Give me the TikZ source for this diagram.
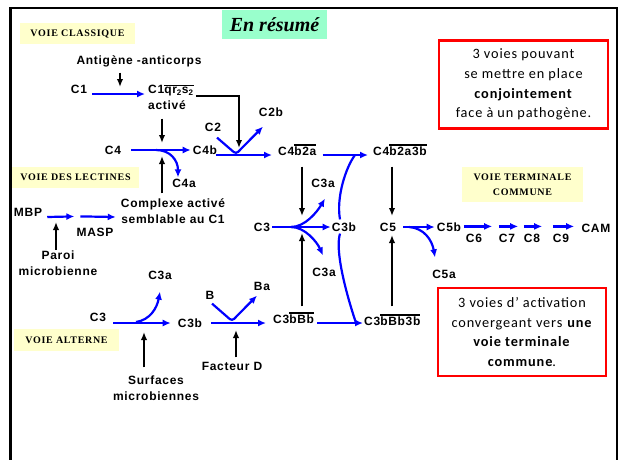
\documentclass[tikz,border=0pt]{standalone}
\usepackage{fontspec}
\usetikzlibrary{arrows.meta,calc}
\newfontfamily\labfont[LetterSpace=6]{Liberation Sans}
\newfontfamily\tagfont[LetterSpace=7]{Liberation Serif}
\newfontfamily\titfont{Liberation Serif}
\newfontfamily\notefont[LetterSpace=6]{Carlito}
\definecolor{tagyellow}{HTML}{FFFFCC}
\definecolor{titgreen}{HTML}{99FFCC}
\newcommand\surligne[1]{\leavevmode\vbox{\hrule height 1.6pt\kern 0.8pt\hbox{#1}}}

\begin{document}
\begin{tikzpicture}[x=1pt,y=-1pt,
    lab/.style={font=\labfont\bfseries\fontsize{12}{13}\selectfont, inner sep=0pt, text height=8.8pt, text depth=0pt},
    lab2/.style={font=\labfont\bfseries\fontsize{12}{16}\selectfont, inner sep=0pt, align=center},
    tag/.style={fill=tagyellow, font=\tagfont\bfseries\fontsize{10}{15}\selectfont, inner sep=0pt},
    note/.style={draw=red, line width=2.5pt, font=\notefont\fontsize{14.3}{19.7}\selectfont, align=center, inner sep=0pt},
    blu/.style={draw=blue, line width=2.2pt, -{Latex[length=8pt,width=7pt]}},
    bluline/.style={draw=blue, line width=2.2pt},
    blk/.style={line width=2pt, -{Latex[length=8pt,width=6.5pt]}}]
  \useasboundingbox (0,0) rectangle (619,459);
  \draw[line width=2.5pt] (10.5,462) -- (10.5,8) -- (617,8) -- (617,462);

  \node[fill=titgreen, minimum width=105pt, minimum height=29pt, inner sep=0pt,
        font=\titfont\bfseries\itshape\fontsize{20}{24}\selectfont] (titre) at (274.5,24.5) {En résumé};
  \node[tag, minimum width=115pt, minimum height=21pt] (classique) at (77.5,33.5) {VOIE CLASSIQUE};
  \node[tag, minimum width=127pt, minimum height=21pt] (lectines) at (75.5,177.5) {VOIE DES LECTINES};
  \node[tag, minimum width=105pt, minimum height=22pt] (alterne) at (66.5,340) {VOIE ALTERNE};
  \node[tag, minimum width=121pt, minimum height=35pt, align=center] (terminale) at (522.5,184.5) {VOIE TERMINALE\\COMMUNE};

  \node[note, minimum width=169pt, minimum height=88pt] (note1) at (523.5,84.5)
    {3 voies pouvant\\se mettre en place\\\textbf{conjointement}\\face à un pathogène.};
  \node[note, minimum width=168pt, minimum height=88pt] (note2) at (522,332)
    {3 voies d’ activation\\convergeant vers \textbf{une}\\\textbf{voie terminale}\\\textbf{commune}.};

  \node[lab] (anti) at (139,60) {Antigène -anticorps};
  \node[lab] (c1) at (79,89) {C1};
  \node[lab, anchor=west] (c1q) at (148,89) {C1\surligne{qr\textsubscript{2}s\textsubscript{2}}};
  \node[lab] (active) at (167,105) {activé};
  \node[lab] (c4) at (113,150) {C4};
  \node[lab] (c4b) at (205,150) {C4b};
  \node[lab] (c4a) at (184,183) {C4a};
  \node[lab] (c2) at (213,127) {C2};
  \node[lab] (c2b) at (271,112) {C2b};
  \node[lab, anchor=west] (c4b2a) at (278,151) {C4\surligne{b2a}};
  \node[lab, anchor=west] (c4b2a3b) at (373,151) {C4\surligne{b2a3b}};
  \node[lab] (c3aup) at (323,183) {C3a};
  \node[lab] (c3) at (262,227) {C3};
  \node[lab] (c3b) at (344,227) {C3b};
  \node[lab] (c3adown) at (324,272) {C3a};
  \node[lab] (c5) at (388,227) {C5};
  \node[lab] (c5b) at (449,227) {C5b};
  \node[lab] (c5a) at (444,274) {C5a};
  \node[lab] (c6) at (474,238) {C6};
  \node[lab] (c7) at (507,238) {C7};
  \node[lab] (c8) at (532,238) {C8};
  \node[lab] (c9) at (561,238) {C9};
  \node[lab] (cam) at (596,228) {CAM};
  \node[lab] (mbp) at (28,212) {MBP};
  \node[lab] (masp) at (95,232) {MASP};
  \node[lab2] (paroi) at (58,263.5) {Paroi\\microbienne};
  \node[lab2] (complexe) at (173,211) {Complexe activé\\semblable au C1};
  \node[lab] (c3aalt) at (160,275) {C3a};
  \node[lab] (c3alt) at (98,317) {C3};
  \node[lab] (c3balt) at (190,323) {C3b};
  \node[lab] (b) at (210,295) {B};
  \node[lab] (ba) at (262,286) {Ba};
  \node[lab] (facteur) at (232,366) {Facteur D};
  \node[lab2] (surfaces) at (156,388) {Surfaces\\microbiennes};
  \node[lab, anchor=west] (c3bbb) at (273,319) {C3\surligne{bBb}};
  \node[lab, anchor=west] (c3bbb3b) at (364,321) {C3\surligne{bBb3b}};

  \coordinate (tipAg) at (120,87);
  \coordinate (tipAct) at (162,143);
  \coordinate (tipCpx) at (162,156);
  \coordinate (tipC2) at (239,148);
  \coordinate (c4split) at (156,150);
  \coordinate (vC2) at (236,154);
  \coordinate (mergeTop) at (355,155);
  \coordinate (mergeBot) at (356,323);
  \coordinate (tipC3top) at (302,216);
  \coordinate (tipC3bot) at (302,233);
  \coordinate (c3split) at (291,227);
  \coordinate (c5split) at (409,227);
  \coordinate (tipC5top) at (392,216);
  \coordinate (tipC5bot) at (392,235);
  \coordinate (tipParoi) at (56,222);
  \coordinate (c3altsplit) at (136,322);
  \coordinate (tipSurf) at (144,332);
  \coordinate (vB) at (232,321);
  \coordinate (tipFD) at (236,330);

  \draw[blu] ($(c1.east)+(5,5)$) -- ($(c1q.west)+(-3,5)$);
  \draw[blk] ($(anti.south -| tipAg)+(0,8)$) -- (tipAg);
  \draw[blk] ($(c1q.east)+(2,7)$) -| (tipC2);
  \draw[blk] ($(active.south -| tipAct)+(0,9)$) -- (tipAct);
  \draw[blu] ($(c4.east)+(10,0)$) -- ($(c4b.west)+(-2,0)$);
  \draw[blu] (c4split) .. controls (170,150) and (178,160) .. ($(c4a.north)+(-6,-1)$);
  \draw[blk] ($(complexe.north -| tipCpx)+(0,-5)$) -- (tipCpx);
  \draw[blu, rounded corners=3pt] ($(c2.south)+(4,6)$) -- (vC2) -- ($(c2b.south)+(-8,10)$);
  \draw[blu] ($(c4b.east)+(-1,5)$) -- ($(c4b2a.west)+(-6,4)$);
  \draw[blu] ($(c4b2a.east)+(6,4)$) -- ($(c4b2a3b.west)+(-5,4)$);
  \draw[bluline] ($(c3b.north)+(-4,-3)$) .. controls (336,197) and (346,167) .. (mergeTop);

  \draw[blk] ($(c4b2a.south -| tipC3top)+(0,11)$) -- (tipC3top);
  \draw[blk] ($(c4b2a3b.south -| tipC5top)+(0,11)$) -- (tipC5top);
  \draw[blu] ($(c3.east)+(2,0)$) -- ($(c3b.west)+(-1,0)$);
  \draw[blu] (c3split) .. controls (305,227) and (317,212) .. ($(c3aup.south)+(2,11)$);
  \draw[blu] (c3split) .. controls (305,227) and (317,242) .. ($(c3adown.north)+(-1,-12)$);
  \draw[blu] ($(c5.east)+(7,0)$) -- ($(c5b.west)+(-2,0)$);
  \draw[blu] (c5split) .. controls (424,228) and (432,240) .. ($(c5a.north)+(-9,-12)$);
  \foreach \n/\p/\q in {c6/-2/10,c7/0/3,c8/0/2,c9/0/5}
    \draw[blu] ($(\n.north west)+(\p,-7)$) -- ($(\n.north east)+(\q,-7)$);

  \draw[blu] ($(mbp.east)+(5,5)$) -- ($(masp.north west)+(-2,-11)$);
  \draw[blu] ($(masp.north west)+(4,-11)$) -- ($(complexe.west)+(-5,6)$);
  \draw[blk] ($(paroi.north -| tipParoi)+(0,-1)$) -- (tipParoi);

  \draw[blu] ($(c3alt.east)+(7,6)$) -- ($(c3balt.west)+(-7,0)$);
  \draw[blu] (c3altsplit) .. controls (150,320) and (157,308) .. ($(c3aalt.south)+(0,12)$);
  \draw[blk] ($(surfaces.north -| tipSurf)+(0,-8)$) -- (tipSurf);
  \draw[blu, rounded corners=3pt] ($(b.south)+(2,4)$) -- (vB) -- ($(ba.south)+(-5,5)$);
  \draw[blu] ($(c3balt.east)+(9,0)$) -- ($(c3bbb.west)+(-7,4)$);
  \draw[blk] ($(facteur.north -| tipFD)+(0,-4)$) -- (tipFD);
  \draw[blk] ($(c3bbb.north -| tipC3bot)+(0,-8)$) -- (tipC3bot);
  \draw[blu] ($(c3bbb.east)+(3,4)$) -- ($(c3bbb3b.west)+(-1,2)$);
  \draw[bluline] ($(c3b.south)+(-4,2)$) .. controls (335,250) and (345,290) .. (mergeBot);
  \draw[blk] ($(c3bbb3b.north -| tipC5bot)+(0,-10)$) -- (tipC5bot);
\end{tikzpicture}
\end{document}
